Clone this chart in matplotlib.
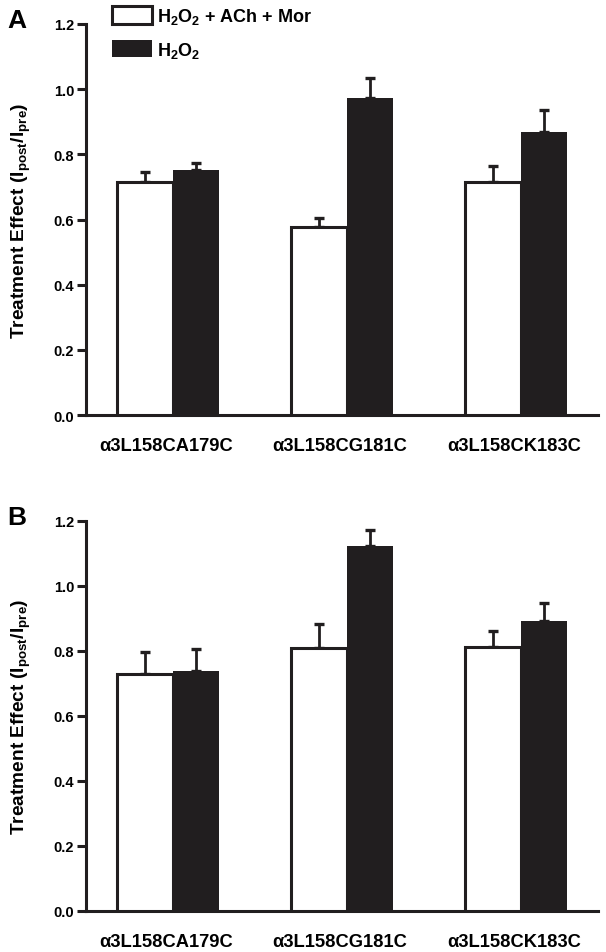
import matplotlib
matplotlib.use("Agg")
import matplotlib.pyplot as plt
import numpy as np

plt.rcParams['font.family'] = ['Liberation Sans', 'DejaVu Sans']
plt.rcParams['mathtext.fontset'] = 'custom'
plt.rcParams['mathtext.rm'] = 'Liberation Sans:bold'
plt.rcParams['mathtext.bf'] = 'Liberation Sans:bold'
plt.rcParams['mathtext.it'] = 'Liberation Sans:bold'

categories = ['α3L158CA179C', 'α3L158CG181C', 'α3L158CK183C']
series_names = [r'H$_2$O$_2$ + ACh + Mor', r'H$_2$O$_2$']
yticks = [0.0, 0.2, 0.4, 0.6, 0.8, 1.0, 1.2]

# Panel A
a_mor = [0.714, 0.576, 0.715]
a_mor_err = [0.031, 0.029, 0.050]
a_h2o2 = [0.753, 0.973, 0.868]
a_h2o2_err = [0.020, 0.060, 0.068]

# Panel B
b_mor = [0.729, 0.807, 0.810]
b_mor_err = [0.068, 0.075, 0.050]
b_h2o2 = [0.738, 1.121, 0.890]
b_h2o2_err = [0.067, 0.049, 0.058]

W, H = 606, 953
fig = plt.figure(figsize=(W / 100, H / 100), dpi=100)

dark = '#211e1f'
lw = 2.2


def panel(rect, mor, mor_err, h2, h2_err, legend=False):
    ax = fig.add_axes(rect)
    x = np.arange(len(categories))
    b1 = ax.bar(x, mor, width=-0.32, align='edge', color='white',
                edgecolor=dark, linewidth=lw, zorder=3, label=series_names[0])
    b2 = ax.bar(x, h2, width=0.265, align='edge', color=dark,
                edgecolor=dark, linewidth=0, zorder=2, label=series_names[1])
    ax.errorbar(x - 0.16, mor, yerr=[np.zeros(3), mor_err], fmt='none',
                ecolor=dark, elinewidth=2.0, capsize=3.8, capthick=2.4, zorder=2)
    ax.errorbar(x + 0.1325, h2, yerr=[np.zeros(3), h2_err], fmt='none',
                ecolor=dark, elinewidth=2.0, capsize=3.8, capthick=2.4, zorder=1)
    ax.set_xlim(-0.5, 2.443)
    ax.set_ylim(0, 1.2)
    ax.set_yticks(yticks)
    ax.set_yticklabels([f'{v:.1f}' for v in yticks], fontsize=10.5, fontweight='bold')
    ax.set_xticks(x - 0.04)
    ax.set_xticklabels(categories, fontsize=13.2, fontweight='bold')
    ax.tick_params(axis='x', length=0, pad=16)
    ax.tick_params(axis='y', length=6.5, width=lw, pad=2, color=dark)
    for s in ['top', 'right']:
        ax.spines[s].set_visible(False)
    for s in ['left', 'bottom']:
        ax.spines[s].set_linewidth(lw)
        ax.spines[s].set_color(dark)
    ax.set_ylabel(r'Treatment Effect (I$_{\mathbf{post}}$/I$_{\mathbf{pre}}$)',
                  fontsize=13.8, fontweight='bold')
    ax.yaxis.set_label_coords(-0.103, 0.5)
    if legend:
        ax.legend(handles=[b1, b2], loc='upper left',
                  bbox_to_anchor=(112 / W, 1 - 7 / H), bbox_transform=fig.transFigure,
                  frameon=False, prop={'size': 13, 'weight': 'bold'},
                  handlelength=2.2, handleheight=1.1,
                  handletextpad=0.3, labelspacing=0.75, borderpad=0, borderaxespad=0)
    return ax


axA = panel([86 / W, 1 - 416 / H, 512 / W, 391 / H], a_mor, a_mor_err,
            a_h2o2, a_h2o2_err, legend=True)
axB = panel([86 / W, 1 - 911.7 / H, 512 / W, 390 / H], b_mor, b_mor_err,
            b_h2o2, b_h2o2_err)

fig.text(7 / W, 1 - 28 / H, 'A', fontsize=19, fontweight='bold', ha='left', va='baseline')
fig.text(7 / W, 1 - 525 / H, 'B', fontsize=19, fontweight='bold', ha='left', va='baseline')

fig.savefig('out.png', dpi=100)
